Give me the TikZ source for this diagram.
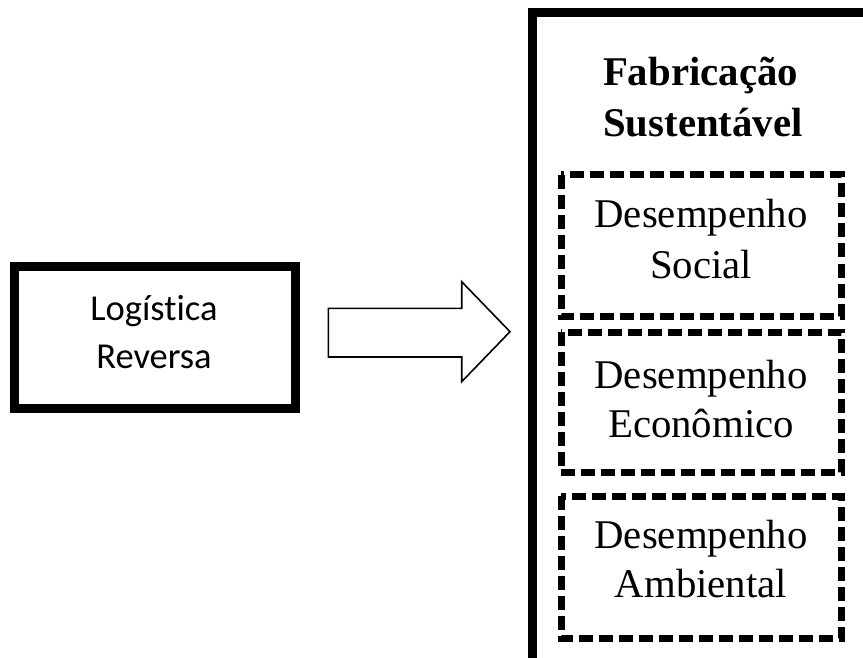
\documentclass[tikz,border=0pt]{standalone}
\usepackage{fontspec}
\setmainfont{Liberation Serif}
\newfontfamily\calib{Carlito}[Ligatures=NoCommon]
\begin{document}
\begin{tikzpicture}[x=1pt,y=-1pt,
  solidbox/.style={draw=black,line width=9pt},
  dashbox/.style={draw=black,line width=7pt,dash pattern=on 14pt off 6pt},
  serif/.style={font=\fontsize{40.8}{48}\selectfont,anchor=base,inner sep=0pt},
  serifbold/.style={font=\fontsize{40.8}{48}\selectfont\bfseries,anchor=base,inner sep=0pt},
  sans/.style={font=\calib\fontsize{36.5}{44}\selectfont,anchor=base,inner sep=0pt},
  bigarrow/.style={draw=black,line width=1.6pt,fill=white,line join=miter}]
\useasboundingbox[fill=white] (0,0) rectangle (863,658);
% left box
\node[solidbox,minimum width=281pt,minimum height=142pt,inner sep=0pt] (lr) at (155,337.5) {};
\node[sans] (lr1) at (154,320) {Logística};
\node[sans] (lr2) at (154,368) {Reversa};
% outer right frame (cut off at right and bottom)
\begin{scope}
\clip (0,0) rectangle (863,658);
\coordinate (fa) at (532,700);
\coordinate (fb) at (532,12.5);
\coordinate (fc) at (900,12.5);
\draw[solidbox,line join=miter] (fa) -- (fb) -- (fc);
\end{scope}
% arrow
\coordinate (a1) at (328.3,308.3);
\coordinate (a2) at (461.7,308.3);
\coordinate (a3) at (461.7,281.7);
\coordinate (a4) at (510,331.7);
\coordinate (a5) at (461.7,381.7);
\coordinate (a6) at (461.7,357);
\coordinate (a7) at (328.3,357);
\draw[bigarrow] (a1) -- (a2) -- (a3) -- (a4) -- (a5) -- (a6) -- (a7) -- cycle;
% title
\node[serifbold] (fab1) at (700.5,86) {Fabricação};
\node[serifbold] (fab2) at (703,137) {Sustentável};
% dashed boxes
\draw[dashbox] (561,175) rectangle (841.5,316);
\draw[dashbox] (561,332) rectangle (841.5,472);
\draw[dashbox] (561,496) rectangle (841.5,638);
\node[serif] (s1) at (701,228) {Desempenho};
\node[serif] (s2) at (701,278) {Social};
\node[serif] (e1) at (701,388) {Desempenho};
\node[serif] (e2) at (701,437) {Econômico};
\node[serif] (m1) at (701,548) {Desempenho};
\node[serif] (m2) at (701,597) {Ambiental};
\end{tikzpicture}
\end{document}
